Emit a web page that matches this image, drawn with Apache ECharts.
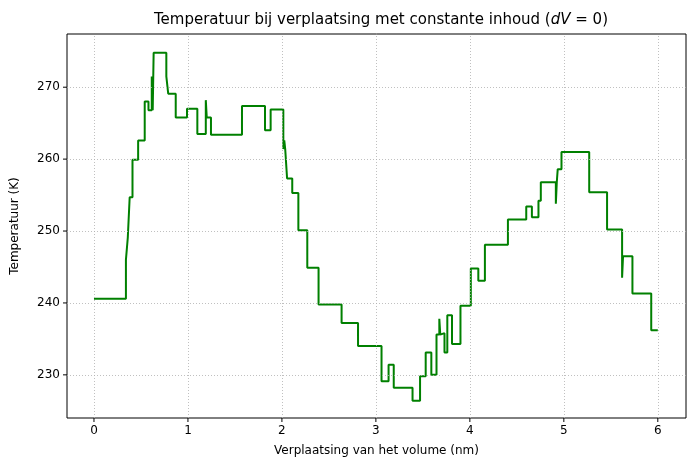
<!DOCTYPE html>
<html>
<head>
<meta charset="utf-8">
<script src="https://cdn.jsdelivr.net/npm/echarts@6/dist/echarts.min.js"></script>
<style>html,body{margin:0;padding:0;background:#fff}#main{width:695px;height:472px}</style>
</head>
<body>
<div id="main"></div>
<script>
// start of each step (nm) and the temperature held from there on
var stepX = [0, 0.34, 0.36, 0.38, 0.41, 0.47, 0.54, 0.58, 0.615, 0.625, 0.635, 0.77, 0.79, 0.87, 0.99, 1.10, 1.19, 1.20, 1.245,
  1.575, 1.82, 1.88, 2.015, 2.025, 2.035, 2.055, 2.11, 2.175, 2.27, 2.39, 2.635, 2.81, 3.06, 3.135, 3.19, 3.39, 3.47, 3.53,
  3.59, 3.645, 3.675, 3.685, 3.695, 3.73, 3.76, 3.81, 3.90, 4.01, 4.09, 4.16, 4.405, 4.60, 4.66, 4.73, 4.755, 4.915, 4.925,
  4.935, 4.975, 5.27, 5.46, 5.62, 5.63, 5.64, 5.73, 5.93, 6.0];
var stepT = [240.6, 246.0, 249.1, 254.7, 259.9, 262.6, 268.0, 266.8, 271.5, 266.8, 274.8, 271.5, 269.1, 265.8, 267.0, 263.5, 268.2, 265.8, 263.4,
  267.4, 264.0, 266.9, 261.4, 262.6, 261.4, 257.3, 255.3, 250.1, 244.9, 239.8, 237.2, 234.0, 229.1, 231.4, 228.2, 226.4, 229.8,
  233.1, 230.0, 235.6, 237.8, 235.6, 235.8, 233.1, 238.3, 234.3, 239.6, 244.8, 243.1, 248.1, 251.6, 253.4, 251.9, 254.2, 256.8, 253.8, 256.8,
  258.6, 261.0, 255.4, 250.2, 243.5, 246.5, 246.5, 241.3, 236.2, 236.2];
var xTicks = [0, 1, 2, 3, 4, 5, 6];
var yTicks = [230, 240, 250, 260, 270];

var myChart = echarts.init(document.getElementById('main'));
var pts = stepX.map(function (x, i) { return [x, stepT[i]]; });
var fnt = 'DejaVu Sans';

var option = {
  animation: false,
  title: {
    text: 'Temperatuur bij verplaatsing met constante inhoud ({i|dV} = 0)',
    left: 376, top: 8, textAlign: 'center',
    textStyle: { fontFamily: fnt, fontSize: 15, fontWeight: 'normal', color: '#000',
      rich: { i: { fontFamily: fnt, fontSize: 15, fontStyle: 'italic', color: '#000' } } }
  },
  grid: { left: 67, right: 9, top: 34, bottom: 54, show: true, borderColor: '#000', borderWidth: 1 },
  xAxis: {
    type: 'value', min: -0.287, max: 6.3,
    name: 'Verplaatsing van het volume (nm)', nameLocation: 'middle', nameGap: 27,
    nameTextStyle: { fontFamily: fnt, fontSize: 12, color: '#000' },
    axisLine: { show: false },
    axisTick: { show: false },
    axisLabel: { show: false },
    splitLine: { show: false }
  },
  yAxis: {
    type: 'value', min: 224.0, max: 277.4,
    name: 'Temperatuur (K)', nameLocation: 'middle', nameGap: 46, nameRotate: 90,
    nameTextStyle: { fontFamily: fnt, fontSize: 12, color: '#000' },
    axisLine: { show: false },
    axisTick: { show: false },
    axisLabel: { show: false },
    splitLine: { show: false }
  },
  series: [
    {
      // dotted grid placed through the axes
      type: 'scatter', symbolSize: 0, silent: true,
      data: [],
      markLine: {
        silent: true, symbol: 'none', label: { show: false },
        lineStyle: { color: '#b0b0b0', type: [1, 2], width: 0.8 },
        data: xTicks.map(function (v) { return { xAxis: v }; }).concat(yTicks.map(function (v) { return { yAxis: v }; }))
      }
    },
    {
      type: 'line', step: 'end', showSymbol: false, silent: true,
      data: pts,
      lineStyle: { color: '#008000', width: 2 }
    }
  ]
};
myChart.setOption(option);

// ticks and labels outside the axes, positioned via the chart's own conversion
var g = [];
xTicks.forEach(function (v) {
  var p = myChart.convertToPixel({ gridIndex: 0 }, [v, 224.0]);
  g.push({ type: 'line', shape: { x1: p[0], y1: p[1], x2: p[0], y2: p[1] + 4 }, style: { stroke: '#000', lineWidth: 1 } });
  g.push({ type: 'text', x: p[0], y: p[1] + 7, style: { text: String(v), font: '12px ' + fnt, fill: '#000', align: 'center', verticalAlign: 'top' } });
});
yTicks.forEach(function (v) {
  var p = myChart.convertToPixel({ gridIndex: 0 }, [-0.287, v]);
  g.push({ type: 'line', shape: { x1: p[0] - 4, y1: p[1], x2: p[0], y2: p[1] }, style: { stroke: '#000', lineWidth: 1 } });
  g.push({ type: 'text', x: p[0] - 7, y: p[1], style: { text: String(v), font: '12px ' + fnt, fill: '#000', align: 'right', verticalAlign: 'middle' } });
});
myChart.setOption({ graphic: g });
</script>
</body>
</html>
